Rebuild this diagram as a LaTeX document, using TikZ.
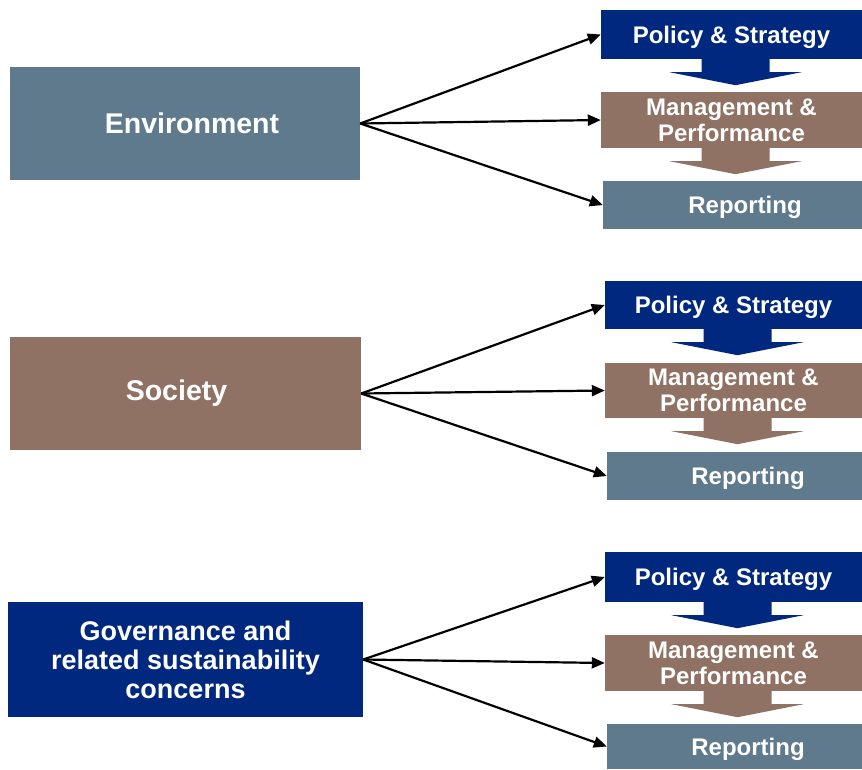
\documentclass[tikz,border=0pt]{standalone}
\usepackage{fontspec}
\setmainfont{Liberation Sans}
\usetikzlibrary{arrows.meta}

\definecolor{envgrey}{RGB}{94,122,140}
\definecolor{socbrown}{RGB}{143,114,99}
\definecolor{govnavy}{RGB}{0,40,127}

% block arrow under a stage box
\newcommand{\stagearrow}[2]{%
  \fill[#2] (#1.south) ++(-30,0) -- ++(0,13) -- ++(-32,0) -- ++(66,13)
    -- ++(66,-13) -- ++(-32,0) -- ++(0,-13) -- cycle;}

\begin{document}
\begin{tikzpicture}[x=1pt, y=-1pt,
		topic/.style={inner sep=0pt, text=white, align=center, font=\bfseries\fontsize{28.5}{29}\selectfont},
		stage/.style={inner sep=0pt, text=white, align=center, font=\bfseries\fontsize{24}{26}\selectfont},
		oneline/.style={stage, text depth=0pt},
		flow/.style={line width=2.2pt, -{Triangle[length=13pt,width=11pt]}}]
		\useasboundingbox (0,0) rectangle (862,769);

		% environment
		\draw (185,123.5) node [topic, fill=envgrey, minimum width=350pt, minimum height=113pt] (env) {\hspace*{14pt}Environment};
		\draw (731.5,34.5) node [oneline, fill=govnavy, minimum width=261pt, minimum height=49pt] (pol1) {Policy \& Strategy};
		\draw (731.5,120) node [stage, fill=socbrown, minimum width=261pt, minimum height=56pt] (man1) {Management \&\\Performance};
		\draw (732.5,205) node [oneline, fill=envgrey, minimum width=259pt, minimum height=48pt] (rep1) {\hspace*{25pt}Reporting};
		\stagearrow{pol1}{govnavy}
		\stagearrow{man1}{socbrown}
		\path[flow]
			(env.east) edge (pol1.west)
				edge (man1.west)
				edge (rep1.west);

		% society
		\draw (185.5,393.5) node [topic, fill=socbrown, minimum width=351pt, minimum height=113pt] (soc) {Society\hspace*{18pt}};
		\draw (733.5,305) node [oneline, fill=govnavy, minimum width=257pt, minimum height=48pt] (pol2) {Policy \& Strategy};
		\draw (733.5,390.5) node [stage, fill=socbrown, minimum width=257pt, minimum height=55pt] (man2) {Management \&\\Performance};
		\draw (734.5,476) node [oneline, fill=envgrey, minimum width=255pt, minimum height=48pt] (rep2) {\hspace*{27pt}Reporting};
		\stagearrow{pol2}{govnavy}
		\stagearrow{man2}{socbrown}
		\path[flow]
			(soc.east) edge (pol2.west)
				edge (man2.west)
				edge (rep2.west);

		% governance
		\draw (185.5,659.5) node [topic, fill=govnavy, minimum width=355pt, minimum height=115pt,
			font=\bfseries\fontsize{27}{29}\selectfont] (gov) {Governance and\\related sustainability\\concerns};
		\draw (733.5,577) node [oneline, fill=govnavy, minimum width=257pt, minimum height=50pt] (pol3) {Policy \& Strategy};
		\draw (733.5,663) node [stage, fill=socbrown, minimum width=257pt, minimum height=56pt] (man3) {Management \&\\Performance};
		\draw (734.5,746.5) node [oneline, fill=envgrey, minimum width=255pt, minimum height=45pt] (rep3) {\hspace*{27pt}Reporting};
		\stagearrow{pol3}{govnavy}
		\stagearrow{man3}{socbrown}
		\path[flow]
			(gov.east) edge (pol3.west)
				edge (man3.west)
				edge (rep3.west);
	\end{tikzpicture}
\end{document}
